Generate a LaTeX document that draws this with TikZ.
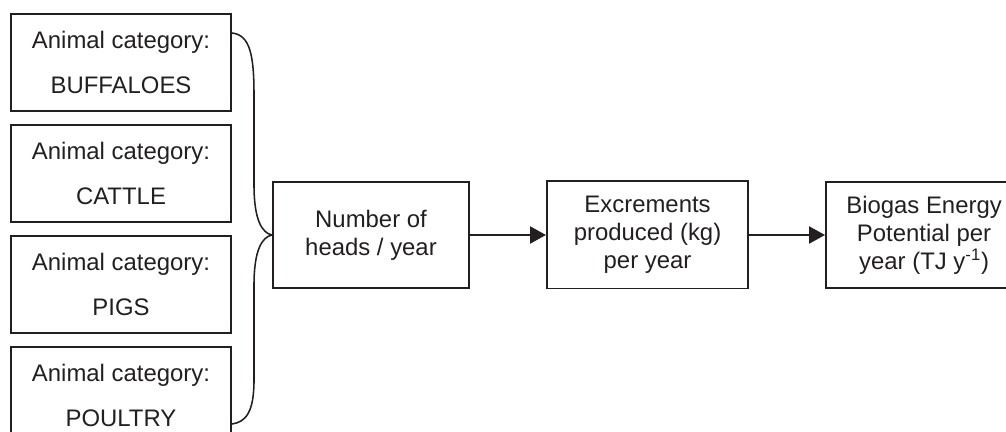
\documentclass[tikz,border=0pt]{standalone}
\usepackage{fontspec}
\setmainfont{Liberation Sans}
\usepackage{tikz}
\usetikzlibrary{positioning,arrows.meta,calc}
\definecolor{flowInk}{HTML}{231F20}
\tikzset{
    flowBoxBase/.style={
        rectangle,
        draw=flowInk,
        line width=1.4pt,
        inner sep=0pt,
        align=center,
        text=flowInk,
        font=\fontsize{17}{20}\selectfont
    },
    % Animal categories
    animalBox/.style={flowBoxBase, minimum width=5.475cm, minimum height=2.425cm,
        font=\fontsize{17}{32}\selectfont},
    % Processing steps
    stepBox/.style={flowBoxBase, minimum width=4.9cm, minimum height=2.65cm},
    % Arrows
    flowArrow/.style={-{Triangle[length=4mm,width=4.2mm]}, line width=1.9pt, draw=flowInk},
    braceLine/.style={line width=1.1pt, draw=flowInk}
}
\begin{document}
\begin{tikzpicture}[x=0.025cm, y=-0.025cm]
    \useasboundingbox (0,0) rectangle (1006,432);
    \node[animalBox] (buffaloes) at (121,62.5) {Animal category:\\BUFFALOES};
    \node[animalBox, below=0.3cm of buffaloes] (cattle) {Animal category:\\CATTLE};
    \node[animalBox, below=0.3cm of cattle] (pigs) {Animal category:\\PIGS};
    \node[animalBox, below=0.3cm of pigs] (poultry) {Animal category:\\POULTRY};

    \node[stepBox] (heads) at (371,235) {Number of\\heads / year};
    \node[stepBox, minimum width=5.025cm, minimum height=2.675cm, right=1.9cm of heads] (excrements) {Excrements\\produced (kg)\\per year};
    \node[stepBox, right=1.9cm of excrements] (biogas) {Biogas Energy\\Potential per\\year (TJ y\textsuperscript{-1})};

    % brace gathering the four categories
    \coordinate (braceTop) at (232,33);
    \coordinate (braceBot) at (232,424);
    \draw[braceLine] (braceTop) .. controls (250,35) and (254,55) .. (254,95)
        -- (254,185) .. controls (254,220) and (262,233) .. (heads.west)
        .. controls (262,237) and (254,250) .. (254,285)
        -- (254,380) .. controls (254,412) and (246,422) .. (braceBot);

    \draw[flowArrow] (heads) -- (excrements);
    \draw[flowArrow] (excrements) -- (biogas);
\end{tikzpicture}
\end{document}
